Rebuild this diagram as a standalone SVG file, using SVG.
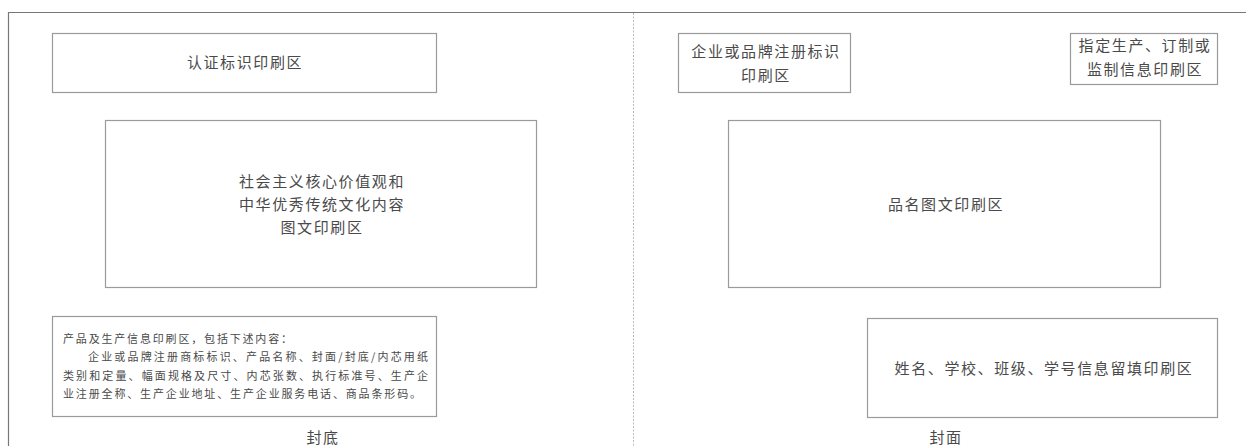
<svg xmlns="http://www.w3.org/2000/svg" width="1246" height="446" viewBox="0 0 1246 446">
<style>
.box{fill:#fff;stroke:#9a9a9a;stroke-width:1.2}
.t{font-family:"Noto Sans CJK SC","Noto Sans",sans-serif;fill:#4a4a4a;font-size:15px;letter-spacing:1.6px;text-anchor:middle}
.s{font-family:"Noto Sans CJK SC","Noto Sans",sans-serif;fill:#4a4a4a;font-size:11px}
.frame{stroke:#777;stroke-width:1.2;fill:none}
.fold{stroke:#bbb;stroke-width:1;stroke-dasharray:2 1.5;fill:none}
</style>
<rect width="1246" height="446" fill="#fff"/>
<g id="frame">
<path class="frame" d="M8.5 446 V12.5 H1246"/>
<path class="fold" d="M633.5 13 V446"/>
</g>
<g id="connectors"></g>
<g id="cert">
<rect class="box" x="52.5" y="33.5" width="384" height="59"/>
<text class="t" x="245" y="68">认证标识印刷区</text>
</g>
<g id="culture">
<rect class="box" x="105.5" y="120.5" width="431" height="167"/>
<text class="t" x="322" y="187">社会主义核心价值观和</text>
<text class="t" x="322" y="210">中华优秀传统文化内容</text>
<text class="t" x="322" y="233">图文印刷区</text>
</g>
<g id="product-info">
<rect class="box" x="52.5" y="316.5" width="384" height="100"/>
<text class="s" x="63" y="343" textLength="229" lengthAdjust="spacing">产品及生产信息印刷区，包括下述内容：</text>
<text class="s" x="88" y="361" textLength="340" lengthAdjust="spacing">企业或品牌注册商标标识、产品名称、封面/封底/内芯用纸</text>
<text class="s" x="63" y="380" textLength="365" lengthAdjust="spacing">类别和定量、幅面规格及尺寸、内芯张数、执行标准号、生产企</text>
<text class="s" x="63" y="398" textLength="358" lengthAdjust="spacing">业注册全称、生产企业地址、生产企业服务电话、商品条形码。</text>
</g>
<g id="back-label">
<text class="t" x="323" y="443">封底</text>
</g>
<g id="brand">
<rect class="box" x="678.5" y="33.5" width="172" height="59"/>
<text class="t" x="766" y="57">企业或品牌注册标识</text>
<text class="t" x="766" y="81">印刷区</text>
</g>
<g id="producer">
<rect class="box" x="1070.5" y="33.5" width="147" height="51"/>
<text class="t" x="1145" y="51">指定生产、订制或</text>
<text class="t" x="1145" y="75">监制信息印刷区</text>
</g>
<g id="title">
<rect class="box" x="728.5" y="120.5" width="432" height="167"/>
<text class="t" x="946" y="210">品名图文印刷区</text>
</g>
<g id="student">
<rect class="box" x="867.5" y="318.5" width="350" height="99"/>
<text class="t" x="1044" y="374">姓名、学校、班级、学号信息留填印刷区</text>
</g>
<g id="front-label">
<text class="t" x="946" y="443">封面</text>
</g>
</svg>
